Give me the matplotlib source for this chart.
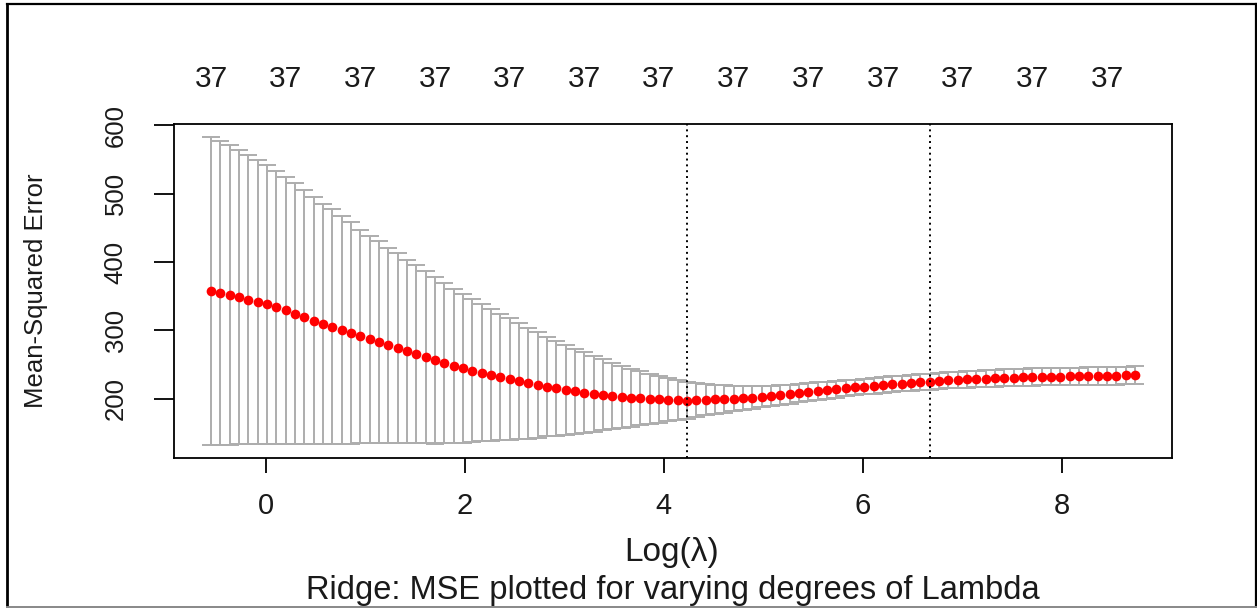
import matplotlib
matplotlib.use("Agg")
import matplotlib.pyplot as plt
from matplotlib.lines import Line2D

# ---------------- data ----------------
log_lambda = [-0.550, -0.456, -0.362, -0.269, -0.175, -0.081, 0.013, 0.107, 0.200, 0.294,
              0.388, 0.482, 0.576, 0.669, 0.763, 0.857, 0.951, 1.045, 1.138, 1.232,
              1.326, 1.420, 1.514, 1.607, 1.701, 1.795, 1.889, 1.983, 2.076, 2.170,
              2.264, 2.358, 2.452, 2.545, 2.639, 2.733, 2.827, 2.921, 3.014, 3.108,
              3.202, 3.296, 3.390, 3.483, 3.577, 3.671, 3.765, 3.859, 3.952, 4.046,
              4.140, 4.234, 4.328, 4.421, 4.515, 4.609, 4.703, 4.797, 4.890, 4.984,
              5.078, 5.172, 5.266, 5.359, 5.453, 5.547, 5.641, 5.735, 5.828, 5.922,
              6.016, 6.110, 6.204, 6.297, 6.391, 6.485, 6.579, 6.673, 6.766, 6.860,
              6.954, 7.048, 7.142, 7.235, 7.329, 7.423, 7.517, 7.611, 7.704, 7.798,
              7.892, 7.986, 8.080, 8.173, 8.267, 8.361, 8.455, 8.549, 8.642, 8.736]

cvm = [357.5, 355.0, 352.0, 348.5, 345.0, 341.5, 338.0, 333.5, 329.0, 324.5,
       319.0, 314.0, 309.5, 305.5, 300.5, 296.0, 291.0, 286.5, 282.5, 278.0,
       274.0, 269.5, 265.0, 260.5, 256.0, 252.0, 248.0, 244.5, 241.0, 238.0,
       235.0, 231.5, 228.5, 225.5, 222.5, 220.0, 217.5, 215.0, 212.5, 210.5,
       208.5, 207.0, 205.5, 204.0, 202.5, 201.5, 200.5, 199.5, 198.8, 198.0,
       197.5, 197.0, 197.8, 198.5, 199.0, 199.5, 200.0, 200.8, 201.5, 202.5,
       203.5, 205.0, 206.5, 208.0, 209.5, 211.0, 212.3, 213.5, 215.0, 216.3,
       217.5, 218.8, 220.0, 221.0, 222.0, 223.0, 224.0, 224.8, 225.8, 226.8,
       227.5, 228.2, 228.8, 229.3, 229.8, 230.3, 230.8, 231.2, 231.5, 231.8,
       232.0, 232.2, 232.4, 232.6, 232.8, 233.0, 233.3, 233.6, 233.9, 234.2]

cvsd = [225.3, 222.5, 219.3, 215.7, 212.0, 208.3, 204.5, 200.0, 195.3, 190.5,
        185.8, 180.7, 176.0, 171.8, 166.5, 161.8, 156.5, 151.8, 147.5, 142.8,
        138.5, 134.0, 130.0, 126.0, 122.0, 117.5, 113.0, 109.0, 104.5, 100.5,
        96.5, 92.5, 89.0, 85.0, 81.0, 77.0, 73.0, 69.5, 66.0, 62.5,
        59.0, 55.5, 52.0, 48.5, 45.5, 42.5, 39.5, 36.5, 34.0, 31.5,
        29.0, 27.0, 25.0, 23.0, 21.5, 20.0, 18.5, 17.3, 16.3, 15.5,
        15.0, 14.5, 14.0, 13.5, 13.0, 12.6, 12.3, 12.0, 11.8, 11.6,
        11.5, 11.4, 11.4, 11.4, 11.5, 11.6, 11.7, 11.8, 11.9, 12.0,
        12.1, 12.2, 12.3, 12.3, 12.4, 12.4, 12.5, 12.5, 12.6, 12.6,
        12.7, 12.7, 12.8, 12.8, 12.8, 12.9, 12.9, 13.0, 13.0, 13.0]

nzero = [37] * 100                 # number of non-zero coefficients per lambda
top_label_step = 8                 # R shows every 8th count label
log_lambda_min = 4.234
log_lambda_1se = 6.673

x_ticks = [0, 2, 4, 6, 8]
y_ticks = [200, 300, 400, 500, 600]

x_label = "Log(λ)"
y_label = "Mean-Squared Error"
sub_title = "Ridge: MSE plotted for varying degrees of Lambda"

# ---------------- figure ----------------
W, H = 1257, 608
plt.rcParams["font.family"] = ["Liberation Sans", "DejaVu Sans"]
fig = plt.figure(figsize=(W / 100, H / 100), dpi=100)
ax = fig.add_axes([174 / W, 1 - 458 / H, (1172 - 174) / W, (458 - 124) / H])

ax.errorbar(log_lambda, cvm, yerr=cvsd, fmt="none", ecolor="#adadad",
            elinewidth=1.4, capsize=6.7, capthick=1.4, zorder=2)
ax.plot(log_lambda, cvm, "o", color="red", markersize=7.0,
        markeredgewidth=0, zorder=3)

ax.axvline(log_lambda_min, color="black", linestyle=(0, (1, 2)), lw=1.4, zorder=4)
ax.axvline(log_lambda_1se, color="black", linestyle=(0, (1, 2)), lw=1.4, zorder=4)

ax.set_xlim(-0.922, 9.108)
ax.set_ylim(113, 602)
ax.set_xticks(x_ticks)
ax.set_yticks(y_ticks)
ax.tick_params(axis="x", length=10.6, width=1.3, pad=14.0, labelsize=21,
               labelcolor="#1a1a1a")
ax.tick_params(axis="y", length=14.4, width=1.3, pad=19, labelsize=18.5,
               labelrotation=90, labelcolor="#1a1a1a")
for lab in ax.get_yticklabels():
    lab.set_verticalalignment("center")
for sp in ax.spines.values():
    sp.set_linewidth(1.3)

# top axis with counts of non-zero coefficients
top = ax.secondary_xaxis("top")
top.set_xticks(log_lambda[::top_label_step],
               [str(v) for v in nzero[::top_label_step]])
top.tick_params(length=0, pad=22.5, labelsize=21.5, labelcolor="#1a1a1a")
top.spines["top"].set_visible(False)

ax.set_xlabel(x_label, fontsize=24, color="#1a1a1a")
ax.xaxis.set_label_coords(0.499, (458 - 552) / (458 - 124))
ax.xaxis.label.set_verticalalignment("center")
ax.set_ylabel(y_label, fontsize=18.5, color="#1a1a1a")
ax.yaxis.set_label_coords((36 - 174) / (1172 - 174), 0.5)
ax.yaxis.label.set_verticalalignment("center")

fig.text(672.5 / W, 1 - 590 / H, sub_title, fontsize=23.5, ha="center",
         va="center", color="#1a1a1a")

# outer frame of the image
def px(x, y):
    return x / W, 1 - y / H
for (x0, y0, x1, y1, c, lw) in [(7, 3.7, 7, 606.5, "black", 2.0),
                                (7, 3.7, 1255.5, 3.7, "black", 1.6),
                                (1255.5, 3.7, 1255.5, 606.5, "black", 1.6),
                                (7, 606.5, 1255.5, 606.5, "#888888", 1.4)]:
    a, b = px(x0, y0)
    c2, d = px(x1, y1)
    fig.add_artist(Line2D([a, c2], [b, d], color=c, lw=lw))

fig.savefig("out.png", dpi=100)
